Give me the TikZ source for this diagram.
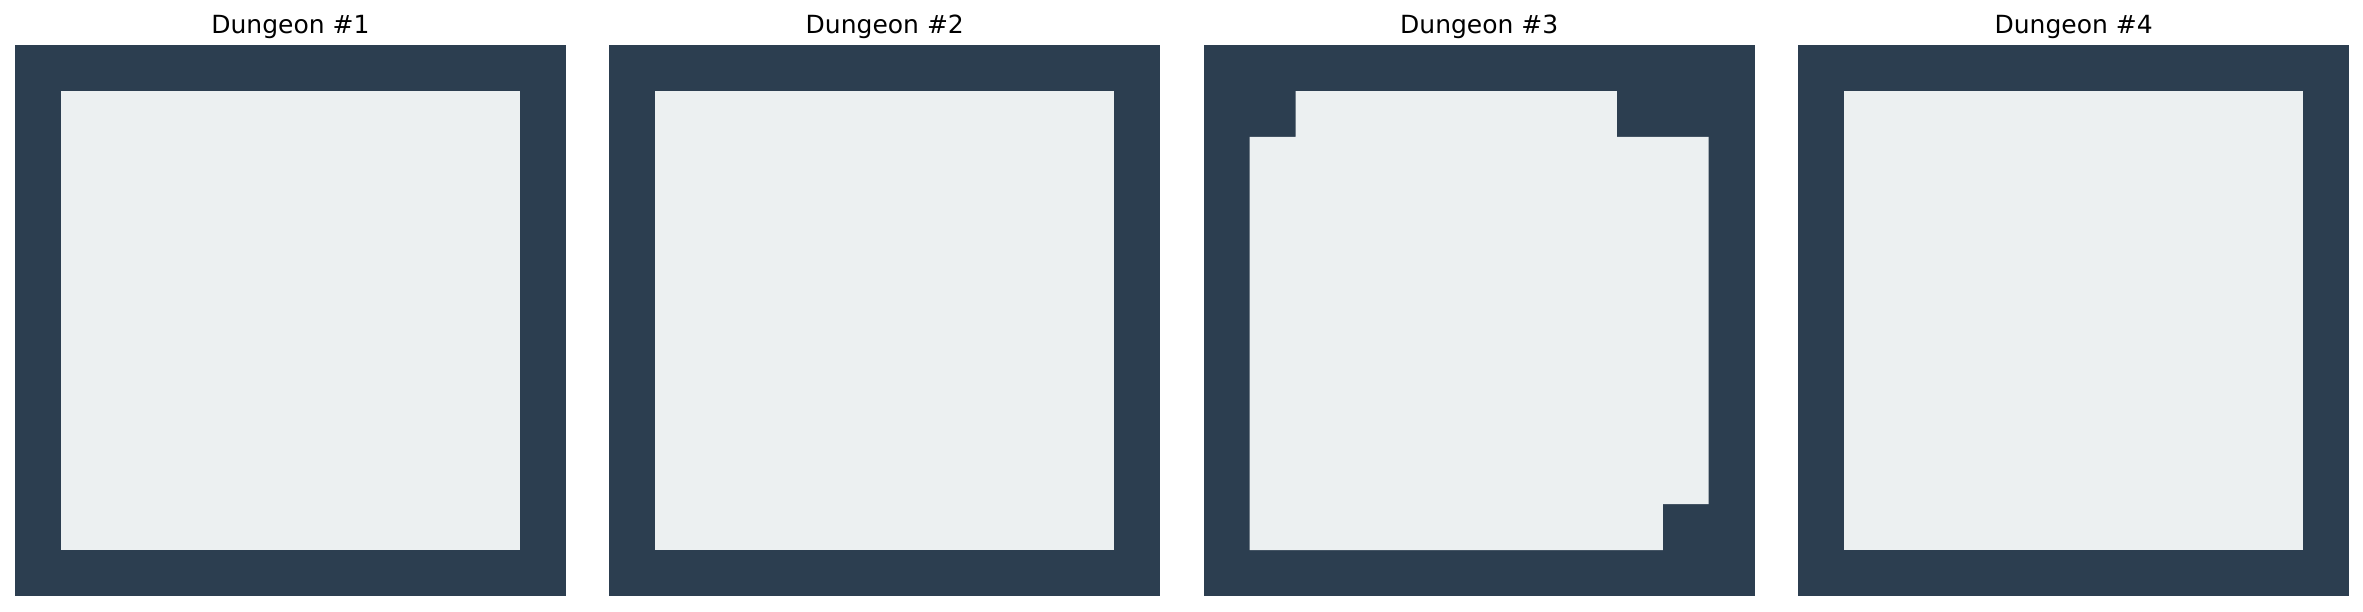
\documentclass[tikz,border=0pt]{standalone}
\usepackage{fontspec}
\setmainfont{DejaVu Sans}
\definecolor{wallc}{HTML}{2C3E50}
\definecolor{floorc}{HTML}{ECF0F1}
\tikzset{
  wall/.style={fill=wallc, draw=none},
  floorcell/.style={fill=floorc, draw=none},
  paneltitle/.style={anchor=base, inner sep=0pt, font=\fontsize{25}{30}\selectfont, text=black}
}
\begin{document}
\begin{tikzpicture}[x=1pt,y=1pt]
\useasboundingbox (0,0) rectangle (2363,611);
% Panel 1
\begin{scope}[shift={(15,15)}, x=45.9pt, y=45.9pt]
  \fill[wall] (0,0) rectangle (12,12);
  \fill[floorcell] (1,1) rectangle (11,11);
  \node[paneltitle] (t1) at (6,12.245) {Dungeon \#1};
\end{scope}
% Panel 2
\begin{scope}[shift={(609.4,15)}, x=45.9pt, y=45.9pt]
  \fill[wall] (0,0) rectangle (12,12);
  \fill[floorcell] (1,1) rectangle (11,11);
  \node[paneltitle] (t2) at (6,12.245) {Dungeon \#2};
\end{scope}
% Panel 3
\begin{scope}[shift={(1203.8,15)}, x=45.9pt, y=45.9pt]
  \fill[wall] (0,0) rectangle (12,12);
  \fill[floorcell] (2,11) -- (9,11) -- (9,10) -- (11,10) -- (11,2) -- (10,2) -- (10,1) -- (1,1) -- (1,10) -- (2,10) -- cycle;
  \node[paneltitle] (t3) at (6,12.245) {Dungeon \#3};
\end{scope}
% Panel 4
\begin{scope}[shift={(1798.2,15)}, x=45.9pt, y=45.9pt]
  \fill[wall] (0,0) rectangle (12,12);
  \fill[floorcell] (1,1) rectangle (11,11);
  \node[paneltitle] (t4) at (6,12.245) {Dungeon \#4};
\end{scope}
\end{tikzpicture}
\end{document}
